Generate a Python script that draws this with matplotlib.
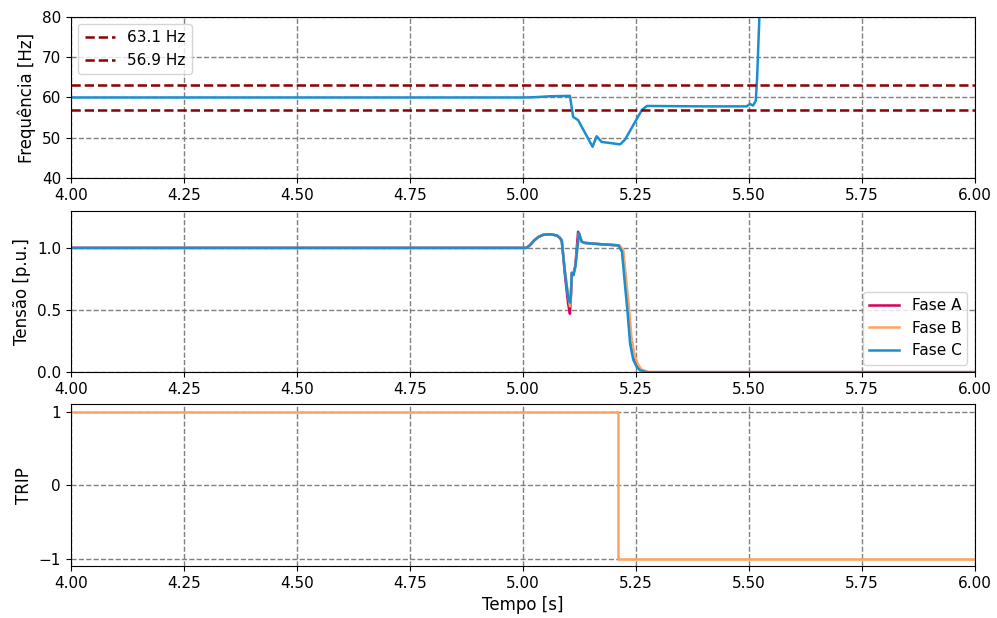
import numpy as np
import matplotlib
matplotlib.use('Agg')
import matplotlib.pyplot as plt

# colours
cA = '#d6005c'
cB = '#ffa363'
cC = '#1a8fd0'

# frequency
t_f = [4.00, 5.00, 5.022, 5.06, 5.104, 5.111, 5.122, 5.154, 5.163, 5.174, 5.215,
       5.226, 5.263, 5.274, 5.40, 5.495, 5.502, 5.509, 5.515, 5.518, 5.523, 5.53]
f = [60.0, 60.0, 60.05, 60.3, 60.4, 55.2, 54.4, 47.8, 50.4, 49.0, 48.4,
     49.6, 56.9, 57.9, 57.8, 57.8, 58.4, 58.0, 59.2, 65.0, 80.0, 90.0]

# voltage, phase C
t_vc = [4.00, 5.008, 5.015, 5.025, 5.035, 5.045, 5.06, 5.075, 5.082, 5.086, 5.093, 5.100,
        5.104, 5.106, 5.108, 5.112, 5.116, 5.124, 5.13, 5.137, 5.17, 5.211, 5.219, 5.226,
        5.231, 5.237, 5.244, 5.252, 5.259, 5.274, 6.00]
v_c = [1.0, 1.0, 1.02, 1.06, 1.09, 1.105, 1.11, 1.10, 1.08, 1.05, 0.80, 0.60,
       0.56, 0.62, 0.80, 0.78, 0.85, 1.12, 1.05, 1.04, 1.03, 1.02, 0.97, 0.69,
       0.50, 0.23, 0.10, 0.04, 0.015, 0.0, 0.0]
# phase A
t_va = [4.00, 5.008, 5.015, 5.025, 5.035, 5.045, 5.06, 5.075, 5.082, 5.086, 5.093, 5.100,
        5.104, 5.106, 5.108, 5.112, 5.116, 5.122, 5.13, 5.137, 5.17, 5.213, 5.221, 5.228,
        5.233, 5.239, 5.246, 5.254, 5.261, 5.276, 6.00]
v_a = [1.0, 1.0, 1.02, 1.06, 1.09, 1.105, 1.11, 1.10, 1.08, 1.06, 0.78, 0.55,
       0.47, 0.60, 0.79, 0.80, 0.86, 1.13, 1.05, 1.04, 1.03, 1.02, 0.96, 0.70,
       0.52, 0.26, 0.12, 0.05, 0.02, 0.0, 0.0]
# phase B
t_vb = [4.00, 5.008, 5.015, 5.025, 5.035, 5.045, 5.06, 5.075, 5.082, 5.086, 5.093, 5.100,
        5.104, 5.106, 5.108, 5.112, 5.116, 5.124, 5.13, 5.137, 5.17, 5.214, 5.222, 5.229,
        5.234, 5.240, 5.247, 5.255, 5.262, 5.278, 6.00]
v_b = [1.0, 1.0, 1.02, 1.06, 1.09, 1.105, 1.11, 1.10, 1.08, 1.05, 0.82, 0.62,
       0.53, 0.63, 0.80, 0.79, 0.85, 1.12, 1.05, 1.04, 1.03, 1.02, 0.98, 0.72,
       0.54, 0.28, 0.13, 0.06, 0.02, 0.0, 0.0]

# trip signal
t_trip = [4.00, 5.211, 5.211, 6.00]
trip = [1, 1, -1, -1]

f_max = 63.1
f_min = 56.9

fig, axs = plt.subplots(3, 1, figsize=(9.97, 6.18), dpi=100)
fig.subplots_adjust(left=0.071, right=0.978, top=0.973, bottom=0.084, hspace=0.2)

ax = axs[0]
ax.plot(t_f, f, color=cC, lw=1.8)
ax.axhline(f_max, color='darkred', ls='--', lw=1.8, label='63.1 Hz')
ax.axhline(f_min, color='darkred', ls='--', lw=1.8, label='56.9 Hz')
ax.set_ylim(40, 80)
ax.set_ylabel('Frequência [Hz]', fontsize=12)
ax.legend(loc='upper left', fontsize=11)

ax = axs[1]
ax.plot(t_va, v_a, color=cA, lw=1.8, label='Fase A')
ax.plot(t_vb, v_b, color=cB, lw=1.8, label='Fase B')
ax.plot(t_vc, v_c, color=cC, lw=1.8, label='Fase C')
ax.set_ylim(0, 1.3)
ax.set_yticks([0.0, 0.5, 1.0])
ax.set_ylabel('Tensão [p.u.]', fontsize=12)
ax.legend(loc='lower right', fontsize=11)

ax = axs[2]
ax.plot(t_trip, trip, color=cB, lw=1.8)
ax.set_ylim(-1.1, 1.1)
ax.set_yticks([-1, 0, 1])
ax.set_ylabel('TRIP', fontsize=12)
ax.set_xlabel('Tempo [s]', fontsize=12)

for ax in axs:
    ax.set_xlim(4, 6)
    ax.grid(True, color='gray', ls='--', lw=1)
    ax.tick_params(labelsize=11)

fig.savefig('out.png', dpi=100)
